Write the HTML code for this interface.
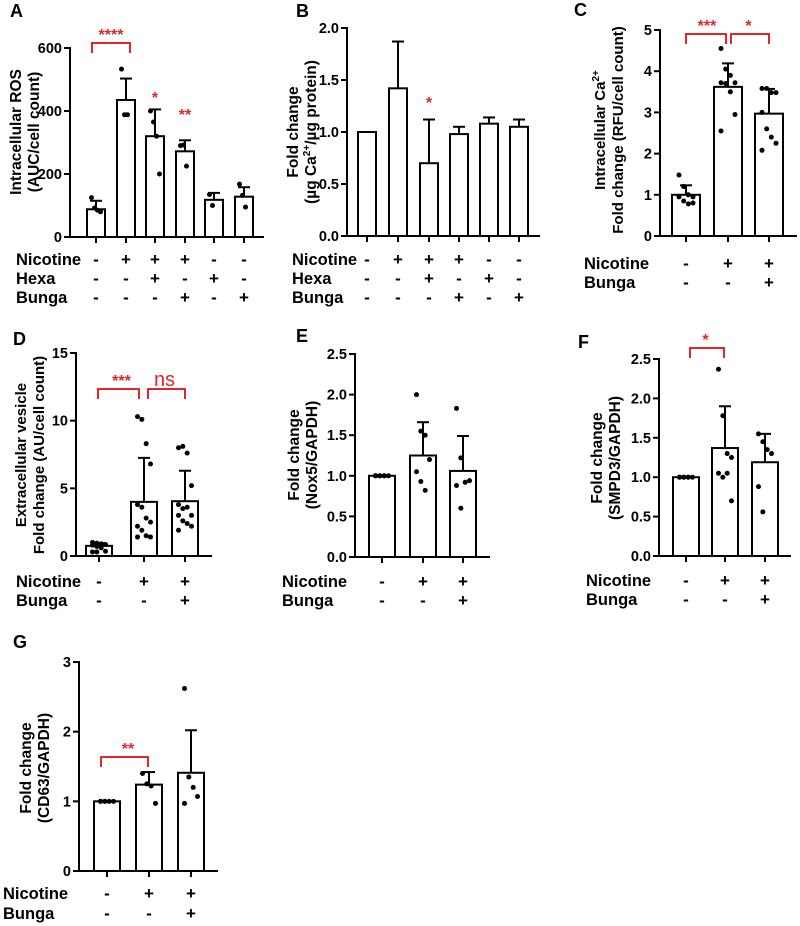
<!DOCTYPE html>
<html><head><meta charset="utf-8">
<style>
html,body{margin:0;padding:0;background:#fff;}
svg{display:block;font-family:"Liberation Sans",Arial,sans-serif;}
</style></head>
<body>
<svg id="fig" width="800" height="926" viewBox="0 0 800 926" xmlns="http://www.w3.org/2000/svg"></svg>
<script>
// ---- Panel A data ----
const aValues = [88, 435, 320, 272, 118, 128];
const aErrors = [115, 503, 405, 307, 140, 158];
const aDots = [[125, 92, 85, 80], [533, 388, 388], [400, 365, 320, 200], [290, 292, 225], [135, 100], [168, 132, 95]];
const aTicks = [0, 200, 400, 600];
const aNic = ['-', '+', '+', '+', '-', '-'];
const aHexa = ['-', '-', '+', '-', '+', '-'];
const aBunga = ['-', '-', '-', '+', '-', '+'];
// ---- Panel B data ----
const bValues = [1.0, 1.42, 0.70, 0.98, 1.08, 1.05];
const bErrors = [1.0, 1.87, 1.12, 1.05, 1.14, 1.12];
const bTicks = [0, 0.5, 1.0, 1.5, 2.0];
const bTickLabels = ['0.0', '0.5', '1.0', '1.5', '2.0'];
// ---- Panel C data ----
const cValues = [1.0, 3.62, 2.97];
const cErrors = [1.23, 4.19, 3.57];
const cDots = [[1.48, 1.2, 1.0, 0.95, 0.95, 0.85, 0.78, 0.8], [4.55, 4.05, 3.9, 3.72, 3.72, 3.7, 3.5, 2.95, 2.55], [3.58, 3.58, 3.48, 3.48, 3.0, 2.6, 2.4, 2.25, 2.08]];
const cTicks = [0, 1, 2, 3, 4, 5];
// ---- Panel D data ----
const dValues = [0.75, 4.0, 4.05];
const dErrors = [0.95, 7.25, 6.3];
const dDots = [[1.0, 0.95, 0.9, 0.85, 0.8, 0.7, 0.6, 0.35, 0.3, 0.3], [10.3, 10.1, 8.3, 6.8, 3.8, 3.6, 2.8, 2.5, 2.2, 1.9, 1.5, 1.4, 1.4], [8.0, 8.1, 7.6, 5.2, 3.8, 3.5, 3.6, 3.0, 3.0, 2.6, 2.4, 2.2, 1.9]];
const dTicks = [0, 5, 10, 15];
// ---- Panel E data ----
const eValues = [1.0, 1.25, 1.06];
const eErrors = [1.0, 1.66, 1.49];
const eDots = [[1, 1, 1, 1, 1, 1, 1], [2.0, 1.55, 1.5, 1.2, 1.05, 0.93, 0.82], [1.83, 1.22, 0.92, 0.94, 0.88, 0.6]];
const eTicks = [0, 0.5, 1.0, 1.5, 2.0, 2.5];
const eTickLabels = ['0.0', '0.5', '1.0', '1.5', '2.0', '2.5'];
// ---- Panel F data ----
const fValues = [1.0, 1.37, 1.19];
const fErrors = [1.0, 1.9, 1.55];
const fDots = [[1, 1, 1, 1, 1, 1, 1], [2.37, 1.78, 1.3, 1.25, 1.05, 1.0, 1.05, 0.7], [1.55, 1.45, 1.35, 1.3, 0.88, 0.56]];
const fTicks = [0, 0.5, 1.0, 1.5, 2.0, 2.5];
// ---- Panel G data ----
const gValues = [1.0, 1.24, 1.41];
const gErrors = [1.0, 1.42, 2.02];
const gDots = [[1, 1, 1, 1, 1, 1], [1.4, 1.25, 1.22, 0.97], [2.62, 1.35, 1.2, 1.07, 0.97]];
const gTicks = [0, 1, 2, 3];
const nic3 = ['-', '+', '+'];
const bun3 = ['-', '-', '+'];

const svg = document.getElementById('fig');
const NS = 'http://www.w3.org/2000/svg';
const RED = '#e0262b';
function mk(tag, attrs, parent) {
  const e = document.createElementNS(NS, tag);
  for (const k in attrs) e.setAttribute(k, attrs[k]);
  (parent || svg).appendChild(e);
  return e;
}
function txt(x, y, s, size, parent, anchor, color, weight) {
  const t = mk('text', {x: x, y: y, 'font-size': size, 'font-weight': weight || 'bold', 'text-anchor': anchor || 'middle', fill: color || '#000'}, parent);
  t.textContent = s;
  return t;
}

function panel(p) {
  const g = mk('g', {});
  
  
  const y = v => p.y0 - (v - p.ymin) / (p.ymax - p.ymin) * (p.y0 - p.yTop);
  const L = txt(p.letterX, p.letterY, p.letter, 18, g, 'start');
  
  
  const ya = mk('g', {}, g);
  
  
  mk('line', {x1: p.ax, y1: p.yTop - 1, x2: p.ax, y2: p.y0 + 1, stroke: '#000', 'stroke-width': 2}, ya);
  p.ticks.forEach((v, i) => {
    mk('line', {x1: p.ax - 6, y1: y(v), x2: p.ax, y2: y(v), stroke: '#000', 'stroke-width': 2}, ya);
    const t = txt(p.ax - 8, y(v) + 5, p.tickLabels ? p.tickLabels[i] : String(v), 14.5, ya, 'end');
    
    
  });
  const xa = mk('g', {}, g);
  
  
  mk('line', {x1: p.ax - 1, y1: p.y0, x2: p.axEnd, y2: p.y0, stroke: '#000', 'stroke-width': 2}, xa);
  p.centers.forEach(c => mk('line', {x1: c, y1: p.y0, x2: c, y2: p.y0 + 6, stroke: '#000', 'stroke-width': 2}, xa));
  const tt = mk('g', {transform: 'translate(' + p.titleX + ',' + p.titleY + ') rotate(-90)'}, g);
  
  
  p.title.forEach((line, i) => {
    const t = txt(0, i * 18, '', p.titleSize || 15.5, tt);
    t.innerHTML = line;
  });
  p.values.forEach((v, i) => {
    const c = p.centers[i];
    const bar = mk('rect', {x: c - p.bw / 2, y: y(v), width: p.bw, height: p.y0 - y(v), fill: '#fff', stroke: '#000', 'stroke-width': 2}, g);
    
    
    if (p.errors && p.errors[i] > v) {
      const eb = mk('g', {}, g);
      
      
      mk('line', {x1: c, y1: y(v), x2: c, y2: y(p.errors[i]), stroke: '#000', 'stroke-width': 2}, eb);
      mk('line', {x1: c - 6, y1: y(p.errors[i]), x2: c + 6, y2: y(p.errors[i]), stroke: '#000', 'stroke-width': 2}, eb);
    }
    if (p.dots && p.dots[i]) {
      const n = p.dots[i].length;
      p.dots[i].forEach((d, j) => {
        const off = n > 1 ? ((j % 4) - 1.5) * (p.bw / 6) : 0;
        const dot = mk('circle', {cx: c + off, cy: y(d), r: 2.5, fill: '#000'}, g);
        
        
      });
    }
  });
  (p.sig || []).forEach(s => {
    const sg = mk('g', {}, g);
    
    
    if (s.from != null) {
      const x1 = p.centers[s.from], x2 = p.centers[s.to];
      mk('path', {d: 'M' + (x1 + (s.in1 || 0)) + ' ' + (s.y + 10) + ' V' + s.y + ' H' + (x2 - (s.in2 || 0)) + ' V' + (s.y + 10), fill: 'none', stroke: RED, 'stroke-width': 2}, sg);
      txt((x1 + x2) / 2, s.y - 3, s.label, s.size || 16, sg, 'middle', RED, s.weight);
    } else {
      txt(p.centers[s.at], s.y, s.label, 16, sg, 'middle', RED);
    }
  });
  p.rows.forEach((r, ri) => {
    const rg = mk('g', {}, g);
    
    
    const ry = p.rowY + ri * p.rowGap;
    txt(p.rowLabelX, ry, r.name, 16.5, rg, 'start');
    r.signs.forEach((s, i) => txt(p.centers[i], ry, s, 17, rg));
  });
}

panel({name: 'panel-a', letter: 'A', letterX: 10, letterY: 17, ax: 70, axEnd: 264, yTop: 48, y0: 237, ymin: 0, ymax: 600,
  ticks: aTicks, centers: [96, 126, 155, 185, 214, 244], bw: 18, values: aValues, errors: aErrors, dots: aDots,
  titleX: 21, titleY: 132, title: ['Intracellular ROS', '(AUC/cell count)'],
  sig: [{from: 0, to: 1, y: 43, label: '****', in1: -4, in2: -4}, {at: 2, y: 103, label: '*'}, {at: 3, y: 120, label: '**'}],
  rowLabelX: 16, rowY: 265, rowGap: 19,
  rows: [{name: 'Nicotine', signs: aNic}, {name: 'Hexa', signs: aHexa}, {name: 'Bunga', signs: aBunga}]});

panel({name: 'panel-b', letter: 'B', letterX: 296, letterY: 17, ax: 347, axEnd: 540, yTop: 28, y0: 236, ymin: 0, ymax: 2.0,
  ticks: bTicks, tickLabels: bTickLabels, centers: [367, 398, 429, 459, 489, 519], bw: 18, values: bValues, errors: bErrors,
  titleX: 298, titleY: 132, title: ['Fold change', '(&#181;g Ca<tspan font-size="10" dy="-6">2+</tspan><tspan dy="6">/&#181;g protein)</tspan>'],
  sig: [{at: 2, y: 108, label: '*'}],
  rowLabelX: 292, rowY: 265, rowGap: 19,
  rows: [{name: 'Nicotine', signs: aNic}, {name: 'Hexa', signs: aHexa}, {name: 'Bunga', signs: aBunga}]});

panel({name: 'panel-c', letter: 'C', letterX: 574, letterY: 16, ax: 660, axEnd: 797, yTop: 30, y0: 236, ymin: 0, ymax: 5,
  ticks: cTicks, centers: [686, 728, 769], bw: 28, values: cValues, errors: cErrors, dots: cDots, titleSize: 15,
  titleX: 605, titleY: 130, title: ['Intracellular Ca<tspan font-size="10" dy="-6">2+</tspan>', 'Fold change (RFU/cell count)'],
  sig: [{from: 0, to: 1, y: 34, label: '***', in2: 2}, {from: 1, to: 2, y: 34, label: '*', in1: 3}],
  rowLabelX: 584, rowY: 269, rowGap: 19,
  rows: [{name: 'Nicotine', signs: nic3}, {name: 'Bunga', signs: bun3}]});

panel({name: 'panel-d', letter: 'D', letterX: 13, letterY: 345, ax: 76, axEnd: 212, yTop: 353, y0: 556, ymin: 0, ymax: 15,
  ticks: dTicks, centers: [99, 144, 185], bw: 26, values: dValues, errors: dErrors, dots: dDots, titleSize: 15,
  titleX: 26, titleY: 455, title: ['Extracellular vesicle', 'Fold change (AU/cell count)'],
  sig: [{from: 0, to: 1, y: 389, label: '***', in1: -1, in2: 5}, {from: 1, to: 2, y: 389, label: 'ns', in1: 4, size: 20, weight: 'normal'}],
  rowLabelX: 16, rowY: 587, rowGap: 19,
  rows: [{name: 'Nicotine', signs: nic3}, {name: 'Bunga', signs: bun3}]});

panel({name: 'panel-e', letter: 'E', letterX: 296, letterY: 342, ax: 355, axEnd: 490, yTop: 354, y0: 557, ymin: 0, ymax: 2.5,
  ticks: eTicks, tickLabels: eTickLabels, centers: [382, 423, 463], bw: 26, values: eValues, errors: eErrors, dots: eDots,
  titleX: 299, titleY: 455, title: ['Fold change', '(Nox5/GAPDH)'],
  sig: [],
  rowLabelX: 282, rowY: 587, rowGap: 19,
  rows: [{name: 'Nicotine', signs: nic3}, {name: 'Bunga', signs: bun3}]});

panel({name: 'panel-f', letter: 'F', letterX: 578, letterY: 348, ax: 659, axEnd: 791, yTop: 359, y0: 556, ymin: 0, ymax: 2.5,
  ticks: fTicks, tickLabels: eTickLabels, centers: [686, 725, 765], bw: 26, values: fValues, errors: fErrors, dots: fDots,
  titleX: 602, titleY: 458, title: ['Fold change', '(SMPD3/GAPDH)'],
  sig: [{from: 0, to: 1, y: 348, label: '*', in1: 4, in2: 1}],
  rowLabelX: 586, rowY: 586, rowGap: 19,
  rows: [{name: 'Nicotine', signs: nic3}, {name: 'Bunga', signs: bun3}]});

panel({name: 'panel-g', letter: 'G', letterX: 13, letterY: 648, ax: 79, axEnd: 218, yTop: 662, y0: 871, ymin: 0, ymax: 3,
  ticks: gTicks, centers: [107, 149, 191], bw: 26, values: gValues, errors: gErrors, dots: gDots,
  titleX: 31, titleY: 768, title: ['Fold change', '(CD63/GAPDH)'],
  sig: [{from: 0, to: 1, y: 757, label: '**', in1: -6, in2: 1}],
  rowLabelX: 3, rowY: 899, rowGap: 20,
  rows: [{name: 'Nicotine', signs: nic3}, {name: 'Bunga', signs: bun3}]});
</script>
</body></html>
